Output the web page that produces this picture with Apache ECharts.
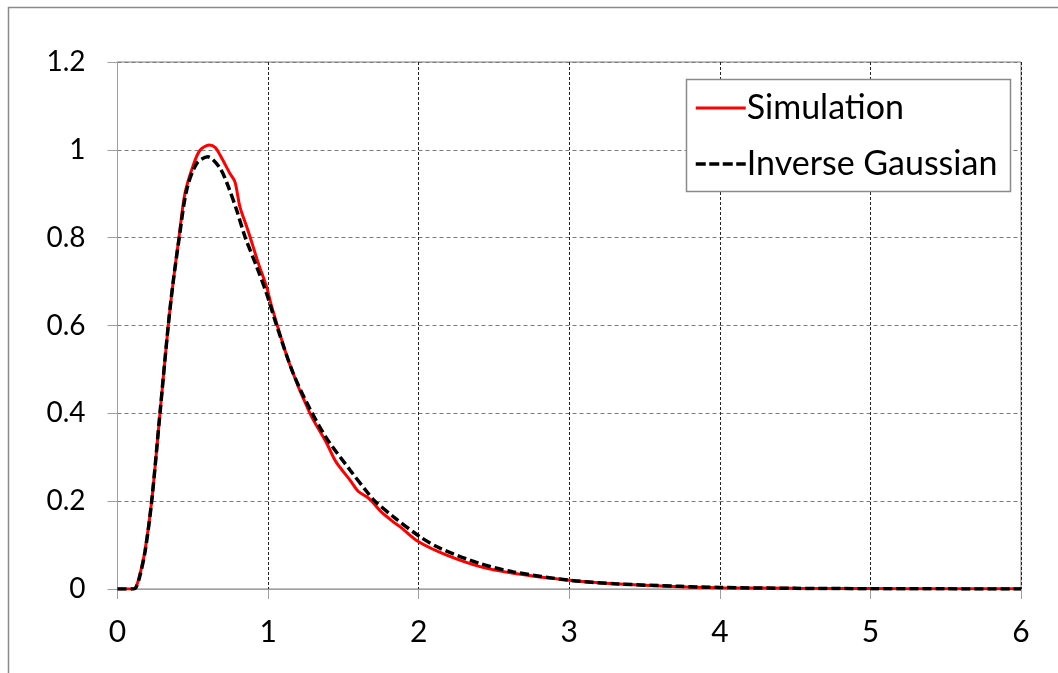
<!DOCTYPE html>
<html>
<head>
<meta charset="utf-8">
<script src="https://cdn.jsdelivr.net/npm/echarts@6/dist/echarts.min.js"></script>
<style>
    html, body { margin: 0; padding: 0; background: #fff; }
    #main { width: 1058px; height: 673px; }
</style>
</head>
<body>
<div id="main"></div>
<script>
    // values, [x, density]
    var simulation = [
        [0, 0], [0.1, 0], [0.12, 0.003], [0.145, 0.028], [0.183, 0.089], [0.227, 0.2],
        [0.282, 0.4], [0.337, 0.6], [0.37, 0.7], [0.408, 0.8], [0.448, 0.901], [0.503, 0.965],
        [0.548, 0.999], [0.61, 1.011], [0.65, 1.005], [0.681, 0.988], [0.747, 0.946],
        [0.78, 0.927], [0.813, 0.87], [0.858, 0.825], [0.88, 0.802], [0.935, 0.742],
        [0.99, 0.688], [1.024, 0.643], [1.145, 0.51], [1.278, 0.4], [1.389, 0.332],
        [1.45, 0.29], [1.544, 0.248], [1.6, 0.222], [1.655, 0.21], [1.688, 0.2], [1.75, 0.176],
        [1.831, 0.153], [1.876, 0.142], [1.997, 0.108], [2.186, 0.077], [2.407, 0.051],
        [2.628, 0.036], [3.0, 0.02], [3.3, 0.012], [3.735, 0.005], [4.0, 0.003],
        [4.5, 0.0015], [5.0, 0.001], [5.5, 0.0005], [6.0, 0.0003]
    ];
    var inverseGaussian = [
        [0, 0], [0.1, 0], [0.12, 0.002], [0.145, 0.025], [0.183, 0.085], [0.227, 0.2],
        [0.282, 0.4], [0.337, 0.6], [0.37, 0.7], [0.41, 0.8], [0.459, 0.908], [0.526, 0.969],
        [0.6, 0.984], [0.681, 0.958], [0.736, 0.916], [0.791, 0.863], [0.847, 0.802],
        [0.924, 0.734], [0.99, 0.673], [1.057, 0.6], [1.167, 0.491], [1.278, 0.41],
        [1.389, 0.343], [1.544, 0.271], [1.655, 0.222], [1.71, 0.2], [1.831, 0.165],
        [2.009, 0.119], [2.141, 0.093], [2.407, 0.058], [2.628, 0.039], [3.0, 0.02],
        [3.3, 0.012], [3.735, 0.006], [4.0, 0.0035], [4.5, 0.0015], [5.0, 0.0007],
        [5.5, 0.0003], [6.0, 0.0001]
    ];
    var seriesNames = ['Simulation', 'Inverse Gaussian'];

    var chart = echarts.init(document.getElementById('main'));
    var font = 'Lato';

    var option = {
        animation: false,
        graphic: [
            {
                // outer frame of the chart area
                type: 'rect',
                shape: {x: 8.5, y: 7.5, width: 1100, height: 700},
                style: {fill: 'none', stroke: '#8a8a8a', lineWidth: 1.5},
                z: -10
            },
            {
                // legend box
                type: 'rect',
                shape: {x: 686.5, y: 79.5, width: 324, height: 112},
                style: {fill: '#fff', stroke: '#8a8a8a', lineWidth: 1.5},
                z: 50
            }
        ],
        legend: {
            data: [
                {name: seriesNames[0], lineStyle: {width: 3}},
                {name: seriesNames[1], lineStyle: {width: 3.5, type: [10, 3.5]}}
            ],
            orient: 'vertical',
            left: 694,
            top: 91,
            itemWidth: 50,
            itemHeight: 4,
            itemGap: 22,
            padding: 0,
            z: 60,
            itemStyle: {opacity: 0},
            textStyle: {fontFamily: font, fontSize: 34, color: '#000', padding: [0, 0, 0, -4]}
        },
        grid: {
            left: 117.5,
            right: 37,
            top: 62,
            bottom: 84,
            show: true,
            borderColor: '#808080',
            borderWidth: 1,
            outerBoundsMode: 'none'
        },
        xAxis: {
            type: 'value',
            min: 0,
            max: 6,
            interval: 1,
            axisLine: {lineStyle: {color: '#a0a0a0', width: 1}},
            axisTick: {show: true, length: 10, lineStyle: {color: '#a0a0a0'}},
            axisLabel: {fontFamily: font, fontSize: 30, color: '#000', margin: 28},
            splitLine: {show: true, lineStyle: {color: '#222', type: [3, 2], width: 1}}
        },
        yAxis: {
            type: 'value',
            min: 0,
            max: 1.2,
            interval: 0.2,
            axisLine: {show: true, lineStyle: {color: '#a0a0a0', width: 1}},
            axisTick: {show: true, length: 10, lineStyle: {color: '#a0a0a0'}},
            axisLabel: {fontFamily: font, fontSize: 28, color: '#000', margin: 32},
            splitLine: {show: true, lineStyle: {color: '#7a7a7a', type: [4, 3], width: 1}}
        },
        series: [
            {
                name: seriesNames[0],
                type: 'line',
                data: simulation,
                symbol: 'none',
                smooth: 0.3,
                lineStyle: {color: '#ff0000', width: 3},
                itemStyle: {color: '#ff0000'}
            },
            {
                name: seriesNames[1],
                type: 'line',
                data: inverseGaussian,
                symbol: 'none',
                smooth: 0.3,
                lineStyle: {color: '#000', width: 3.5, type: [9, 4]},
                itemStyle: {color: '#000'}
            }
        ]
    };

    chart.setOption(option);
</script>
</body>
</html>
